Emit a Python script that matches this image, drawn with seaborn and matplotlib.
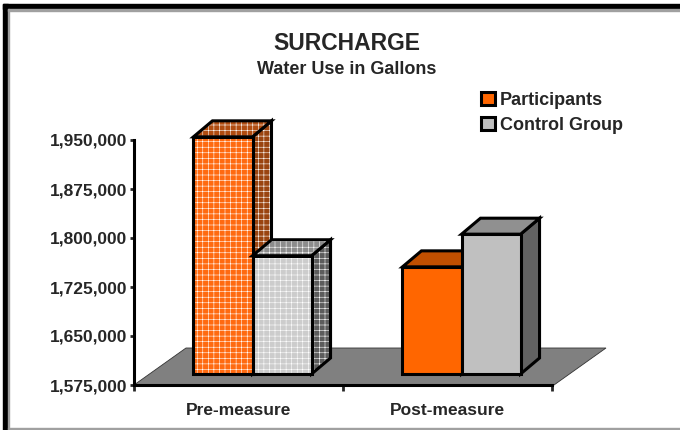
import numpy as np
import pandas as pd
import matplotlib
matplotlib.use("Agg")
import matplotlib.pyplot as plt
import seaborn as sns
from matplotlib.patches import Polygon, Rectangle, Patch
from matplotlib.transforms import IdentityTransform, ScaledTranslation
from matplotlib.ticker import StrMethodFormatter, FixedLocator

# data
measures = ["Pre-measure", "Post-measure"]
groups = ["Participants", "Control Group"]
participants = [1938000, 1739000]
control = [1756000, 1789000]
y_ticks = [1575000, 1650000, 1725000, 1800000, 1875000, 1950000]

df = pd.DataFrame({
    "measure": measures * 2,
    "group": [groups[0]] * 2 + [groups[1]] * 2,
    "gallons": participants + control,
})

# front / top / side colour, dotted fill
styles = {
    ("Pre-measure", "Participants"): ("#ff6a10", "#b04c10", "#9a4410", True),
    ("Pre-measure", "Control Group"): ("#cccccc", "#8c8c8c", "#5c5c5c", True),
    ("Post-measure", "Participants"): ("#ff6600", "#c04f00", "#a04000", False),
    ("Post-measure", "Control Group"): ("#c0c0c0", "#909090", "#626262", False),
}
legend_colors = ["#ff6600", "#c0c0c0"]
DOTS = "+++"

sns.set_style("white")
plt.rcParams["font.family"] = ["Liberation Sans", "DejaVu Sans"]
plt.rcParams["hatch.linewidth"] = 0.4

DPI = 100
fig = plt.figure(figsize=(6.8, 4.3), dpi=DPI)
ax = fig.add_axes([134 / 680, 45 / 430, 418 / 680, 245 / 430])

sns.barplot(data=df, x="measure", y="gallons", hue="group", order=measures,
            hue_order=groups, width=0.565, errorbar=None, legend=False, ax=ax)

base = y_ticks[0]
ax.set_ylim(base, y_ticks[-1])
ax.set_xlim(-0.5, 1.5)

# pseudo 3d: front plane pushed back into the floor, then depth
front_off = np.array([14.0, 11.0])
depth = np.array([19.0, 16.0])
shift = ScaledTranslation(front_off[0] / DPI, front_off[1] / DPI, fig.dpi_scale_trans)
lw = 2.2

# floor
fl = ax.transData.transform((-0.5, base))
fr = ax.transData.transform((1.5, base)) + np.array([2.0, 0.0])
floor_depth = np.array([52.0, 37.0])
ax.add_patch(Polygon([fl, fr, fr + floor_depth, fl + floor_depth], closed=True,
                     transform=IdentityTransform(), facecolor="#808080",
                     edgecolor="#333333", lw=0.6, zorder=1, clip_on=False))


def face(pts, color, dotted, z):
    ax.add_patch(Polygon(pts, closed=True, transform=IdentityTransform(),
                         facecolor=color, edgecolor="white" if dotted else "none",
                         hatch=DOTS if dotted else None, lw=0, zorder=z, clip_on=False))
    ax.add_patch(Polygon(pts, closed=True, transform=IdentityTransform(), fill=False,
                         edgecolor="black", lw=lw, joinstyle="miter", zorder=z + 0.05,
                         clip_on=False))


for p in list(ax.patches):
    if not isinstance(p, Rectangle):
        continue
    x0, w, v = p.get_x(), p.get_width(), p.get_height()
    xc = x0 + w / 2
    cat = int(round(xc))
    grp = 0 if xc < cat else 1
    front_c, top_c, side_c, dotted = styles[(measures[cat], groups[grp])]
    z = 3 + grp

    ll, ur = ax.transData.transform([(x0, base), (x0 + w, v)]) + front_off
    lr = np.array([ur[0], ll[1]])
    ul = np.array([ll[0], ur[1]])

    face([lr, lr + depth, ur + depth, ur], side_c, dotted, z)
    face([ul, ur, ur + depth, ul + depth], top_c, dotted, z + 0.1)

    # the seaborn bar is the front face
    p.set_y(base)
    p.set_height(v - base)
    p.set_transform(ax.transData + shift)
    p.set_clip_on(False)
    p.set_facecolor(front_c)
    p.set_edgecolor("white" if dotted else "none")
    p.set_hatch(DOTS if dotted else None)
    p.set_linewidth(0)
    p.set_zorder(z + 0.2)
    ax.add_patch(Polygon([ll, lr, ur, ul], closed=True, transform=IdentityTransform(),
                         fill=False, edgecolor="black", lw=lw, joinstyle="miter",
                         zorder=z + 0.25, clip_on=False))

# axes
for s in ["top", "right"]:
    ax.spines[s].set_visible(False)
for s in ["left", "bottom"]:
    ax.spines[s].set_linewidth(lw)
    ax.spines[s].set_color("black")
ax.set_facecolor("white")
ax.grid(False)
ax.set_xlabel("")
ax.set_ylabel("")

ax.set_yticks(y_ticks)
ax.yaxis.set_major_formatter(StrMethodFormatter("{x:,.0f}"))
ax.tick_params(axis="y", direction="out", length=3, width=2, pad=2, labelsize=12.5, left=True)
ax.xaxis.set_minor_locator(FixedLocator([-0.5, 0.5, 1.5]))
ax.tick_params(axis="x", which="major", length=0, pad=13, labelsize=12.5)
ax.tick_params(axis="x", which="minor", direction="out", length=4, width=2, bottom=True)
for lab in ax.get_xticklabels() + ax.get_yticklabels():
    lab.set_fontweight("bold")

# titles
fig.text(347 / 680, 1 - 43 / 430, "SURCHARGE", ha="center", va="center",
         fontsize=16.5, fontweight="bold")
fig.text(347 / 680, 1 - 69 / 430, "Water Use in Gallons", ha="center", va="center",
         fontsize=13, fontweight="bold")

# legend
handles = [Patch(facecolor=c, edgecolor="black", lw=lw) for c in legend_colors]
fig.legend(handles, groups, loc="upper left", bbox_to_anchor=(481 / 680, 1 - 92 / 430),
           frameon=False, prop={"weight": "bold", "size": 13}, handlelength=0.75,
           handleheight=0.75, handletextpad=0.3, labelspacing=0.45, borderpad=0,
           borderaxespad=0)

# outer frame
idt = IdentityTransform()
fig.add_artist(Rectangle((3, 0), 5, 426, transform=idt, color="black"))
fig.add_artist(Rectangle((3, 421), 677, 5, transform=idt, color="black"))
fig.add_artist(Rectangle((8, 0), 1.2, 421, transform=idt, color="#a0a0a0"))
fig.add_artist(Rectangle((8, 419.5), 672, 1.2, transform=idt, color="#a0a0a0"))
fig.add_artist(Rectangle((8, 1), 672, 1.5, transform=idt, color="#a0a0a0"))

fig.savefig("out.png", dpi=DPI)
